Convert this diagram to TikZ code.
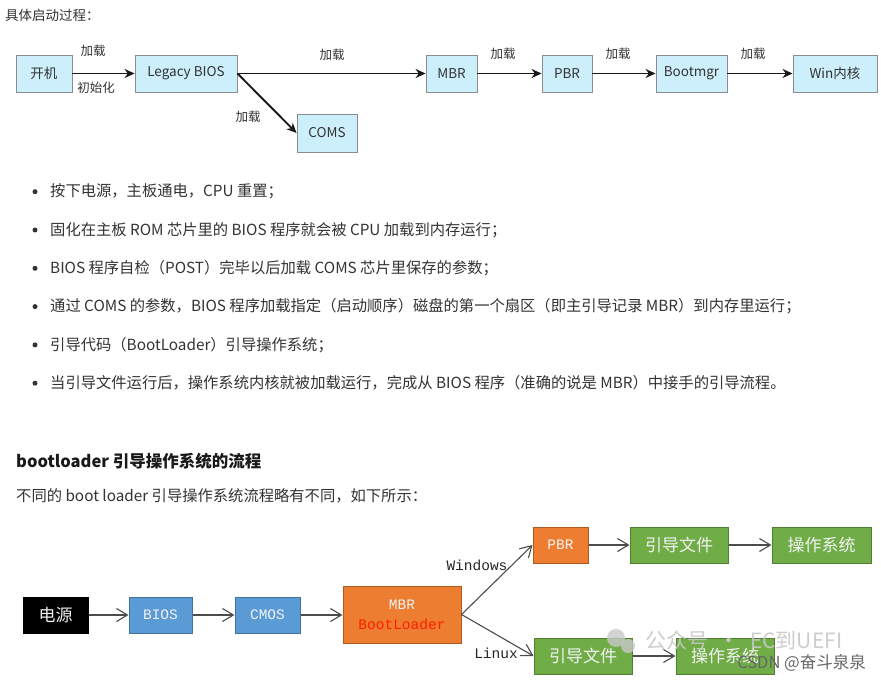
\documentclass[tikz,border=0pt]{standalone}
\usepackage{fontspec}
\setmainfont{Noto Sans CJK SC}
\newfontfamily\monofont{Liberation Mono}
\usetikzlibrary{positioning,arrows.meta}
\definecolor{txtdark}{RGB}{51,51,51}
\definecolor{boxcyan}{RGB}{205,238,251}
\definecolor{boxgray}{RGB}{140,140,140}
\definecolor{winblue}{RGB}{91,155,213}
\definecolor{winblueline}{RGB}{65,113,156}
\definecolor{mbrorange}{RGB}{237,125,49}
\definecolor{mbrline}{RGB}{174,90,33}
\definecolor{osgreen}{RGB}{112,173,71}
\definecolor{osline}{RGB}{80,126,50}
\definecolor{bootred}{RGB}{255,30,0}
\definecolor{boxtext}{RGB}{242,242,242}
\definecolor{markgray}{RGB}{200,200,200}
\tikzset{
  oldbox/.style={draw=boxgray, line width=0.9pt, fill=boxcyan, minimum height=37pt,
                 inner sep=0pt, font=\fontsize{13.5}{15}\selectfont, text=txtdark},
  load/.style={-{Stealth[length=10pt,width=9pt]}, draw=black!90, line width=1.9pt},
  loadtag/.style={font=\fontsize{12.5}{14}\selectfont, text=txtdark, inner sep=0pt},
  bodytxt/.style={font=\fontsize{15.3}{18}\selectfont, text=txtdark, anchor=west, inner sep=0pt},
  newbox/.style={line width=1pt, minimum height=36pt, inner sep=0pt, text=boxtext,
                 font=\fontsize{17}{19}\selectfont, align=center},
  bluebox/.style={newbox, draw=winblueline, fill=winblue, font=\monofont\fontsize{14.5}{17}\selectfont},
  greenbox/.style={newbox, draw=osline, fill=osgreen},
  chain/.style={-{Straight Barb[length=11pt,width=13pt,line width=1.1pt]}, draw=black!70, line width=1.1pt},
  ostag/.style={font=\monofont\fontsize{14.5}{17}\selectfont, text=black!85, inner sep=0pt},
}
\begin{document}
\begin{tikzpicture}[x=1pt, y={(0pt,-1pt)}]
\useasboundingbox (0,0) rectangle (881,680);
\fill[white] (0,0) rectangle (881,680);

% legacy boot chain, top
\node[font=\fontsize{13.5}{16}\selectfont, text=txtdark, anchor=west, inner sep=0pt] (intro) at (5,15) {具体启动过程：};
\def\ra{73.5}
\node[oldbox, minimum width=56pt] (kaiji) at (44,\ra) {开机};
\node[oldbox, minimum width=102pt] (legacy) at (186,\ra) {Legacy BIOS};
\node[oldbox, minimum width=60pt, minimum height=38pt] (coms) at (327,133) {COMS};
\node[oldbox, minimum width=51pt] (mbr) at (451.5,\ra) {MBR};
\node[oldbox, minimum width=50pt] (pbr) at (567,\ra) {PBR};
\node[oldbox, minimum width=71pt] (bootmgr) at (691.5,\ra) {Bootmgr};
\node[oldbox, minimum width=84pt] (winkern) at (835,\ra) {Win内核};

\draw[load] (kaiji) -- (legacy);
\draw[load] (legacy) -- (mbr);
\draw[load] (legacy.east) -- (coms.west);
\draw[load] (mbr) -- (pbr);
\draw[load] (pbr) -- (bootmgr);
\draw[load] (bootmgr) -- (winkern);

\node[loadtag] (ta) at (93,51) {加载};
\node[loadtag] (tb) at (96,88) {初始化};
\node[loadtag] (tc) at (332,55) {加载};
\node[loadtag] (td) at (248,117) {加载};
\node[loadtag] (te) at (503,54) {加载};
\node[loadtag] (tf) at (618,54) {加载};
\node[loadtag] (tg) at (753,54) {加载};

% step list
\foreach \t [count=\i] in {按下电源，主板通电，CPU 重置；,
    固化在主板 ROM 芯片里的 BIOS 程序就会被 CPU 加载到内存运行；,
    BIOS 程序自检（POST）完毕以后加载 COMS 芯片里保存的参数；,
    通过 COMS 的参数，BIOS 程序加载指定（启动顺序）磁盘的第一个扇区（即主引导记录 MBR）到内存里运行；,
    引导代码（BootLoader）引导操作系统；,
    当引导文件运行后，操作系统内核就被加载运行，完成从 BIOS 程序（准确的说是 MBR）中接手的引导流程。}
{
  \fill[txtdark] (35,{191.7+(\i-1)*38.3}) circle (2.5);
  \node[bodytxt] (step\i) at (50,{191.7+(\i-1)*38.3}) {\t};
}

% bootloader section
\node[font=\bfseries\fontsize{16.5}{19}\selectfont, text=black!90, anchor=west, inner sep=0pt] (head) at (16,461) {bootloader 引导操作系统的流程};
\node[bodytxt] (lead) at (16,496) {不同的 boot loader 引导操作系统流程略有不同，如下所示：};

\def\rb{615}
\node[newbox, draw=black, fill=black, minimum width=65pt] (power) at (55.5,\rb) {电源};
\node[bluebox, minimum width=63pt] (bios) at (160.5,\rb) {BIOS};
\node[bluebox, minimum width=65pt] (cmos) at (267.5,\rb) {CMOS};
\node[newbox, draw=mbrline, fill=mbrorange, minimum width=118pt, minimum height=57pt,
      font=\monofont\fontsize{14.5}{20}\selectfont] (bootld) at (402,614.5)
      {MBR\\\textcolor{bootred}{BootLoader}};
\node[newbox, draw=mbrline, fill=mbrorange, minimum width=55pt,
      font=\monofont\fontsize{14.5}{17}\selectfont] (pbr2) at (560.5,545) {PBR};
\node[greenbox, minimum width=98pt] (winfile) at (679,545) {引导文件};
\node[greenbox, minimum width=99pt] (winos) at (821.5,545) {操作系统};
\node[greenbox, minimum width=98pt] (linfile) at (583,656) {引导文件};
\node[greenbox, minimum width=98pt] (linos) at (725,656) {操作系统};

\draw[chain] (power) -- (bios);
\draw[chain] (bios) -- (cmos);
\draw[chain] (cmos) -- (bootld.west |- cmos);
\draw[chain] (bootld.east) -- (pbr2.west);
\draw[chain] (bootld.east) -- (linfile.west);
\draw[chain] (pbr2) -- (winfile);
\draw[chain] (winfile) -- (winos);
\draw[chain] (linfile) -- (linos);

\node[ostag] (wintag) at (477,565) {Windows};
\node[ostag] (lintag) at (496,653) {Linux};

% watermarks
\fill[markgray, opacity=0.8] (616,638) circle (9);
\fill[markgray, opacity=0.8] (628,646) circle (7);
\node[font=\fontsize{21}{22}\selectfont, text=markgray, opacity=0.9, anchor=west, inner sep=0pt] (mark) at (645,640) {公众号\enspace·\enspace EC到UEFI};
\node[font=\fontsize{16.5}{19}\selectfont, text=black!60, anchor=east, inner sep=0pt] (csdn) at (866,663) {CSDN @奋斗泉泉};
\end{tikzpicture}
\end{document}
